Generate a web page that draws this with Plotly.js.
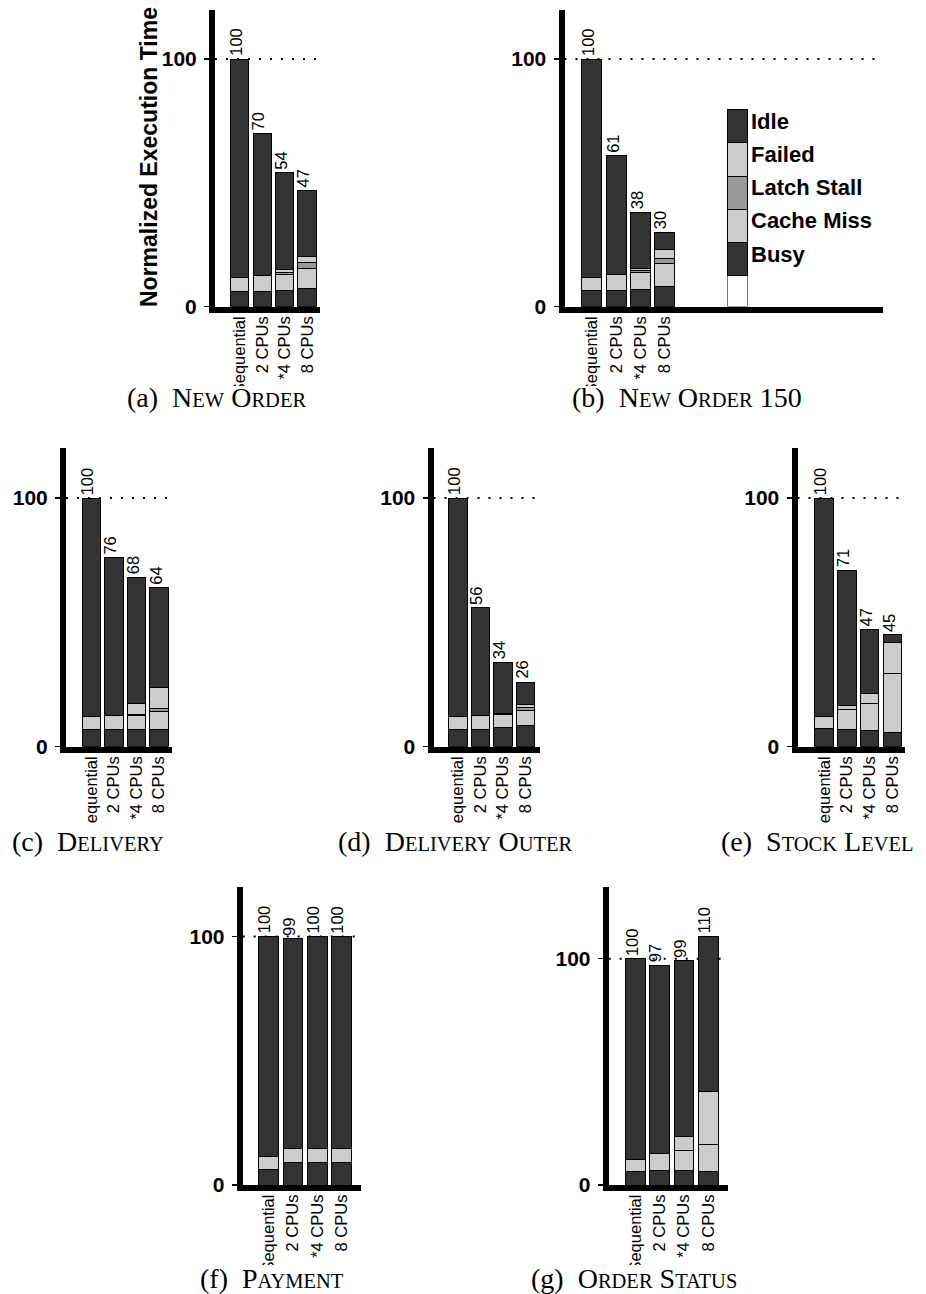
<!DOCTYPE html>
<html>
<head>
<meta charset="utf-8">
<script src="https://cdn.plot.ly/plotly-3.0.1.min.js"></script>
<style>html,body{margin:0;padding:0;background:#fff;}</style>
</head>
<body>
<div id="chart" style="width:926px;height:1294px"></div>
<script>
// Configurations on the x axis and the execution-time breakdown categories
const configs = ['Sequential', '2 CPUs', '*4 CPUs', '8 CPUs'];
const segmentNames = ['Busy', 'Cache Miss', 'Latch Stall', 'Failed', 'Idle'];

// (a) New Order
const newOrderBusy = [6.0, 6.0, 6.4, 7.3];
const newOrderCacheMiss = [5.6, 6.7, 6.8, 8.1];
const newOrderLatchStall = [0, 0, 0.8, 2.4];
const newOrderFailed = [0, 0, 1.1, 2.5];
const newOrderTotal = [100, 70, 54, 47];

// (b) New Order 150
const newOrder150Busy = [6.4, 6.4, 6.8, 8.2];
const newOrder150CacheMiss = [5.2, 6.6, 7.2, 9.2];
const newOrder150LatchStall = [0, 0, 0.5, 2.0];
const newOrder150Failed = [0, 0, 0.9, 3.7];
const newOrder150Total = [100, 61, 38, 30];

// (c) Delivery
const deliveryBusy = [6.9, 6.9, 6.9, 6.9];
const deliveryCacheMiss = [5.1, 5.7, 5.6, 7.3];
const deliveryLatchStall = [0, 0, 0.4, 1.0];
const deliveryFailed = [0, 0, 4.4, 8.7];
const deliveryTotal = [100, 76, 68, 64];

// (d) Delivery Outer
const deliveryOuterBusy = [6.9, 6.9, 7.7, 8.4];
const deliveryOuterCacheMiss = [5.1, 5.7, 5.3, 6.2];
const deliveryOuterLatchStall = [0, 0, 0, 1.0];
const deliveryOuterFailed = [0, 0, 0.4, 1.3];
const deliveryOuterTotal = [100, 56, 34, 26];

// (e) Stock Level
const stockLevelBusy = [7.3, 6.9, 6.4, 5.6];
const stockLevelCacheMiss = [4.7, 8.0, 10.9, 23.7];
const stockLevelLatchStall = [0, 0, 0, 0];
const stockLevelFailed = [0, 1.7, 4.2, 12.6];
const stockLevelTotal = [100, 71, 47, 45];

// (f) Payment
const paymentBusy = [6.2, 9.1, 8.9, 8.9];
const paymentCacheMiss = [5.2, 5.7, 5.9, 5.9];
const paymentLatchStall = [0, 0, 0, 0];
const paymentFailed = [0, 0, 0, 0];
const paymentTotal = [100, 99, 100, 100];

// (g) Order Status
const orderStatusBusy = [6.0, 6.3, 6.3, 6.0];
const orderStatusCacheMiss = [5.2, 7.8, 8.8, 12.1];
const orderStatusLatchStall = [0, 0, 0, 0];
const orderStatusFailed = [0, 0, 6.3, 23.0];
const orderStatusTotal = [100, 97, 99, 110];

// ---- drawing ----
const W = 926, H = 1294;
const SANS = 'Liberation Sans, Arial, Helvetica, sans-serif';
const SERIF = 'Liberation Serif, Times New Roman, serif';
const DARK = '#333333', LIGHT = '#cccccc', MID = '#999999';
const segColors = [DARK, LIGHT, MID, LIGHT, DARK];
const sc = s => '<span style="font-size:20.5px">' + s + '</span>';

const panels = [
  {seg: [newOrderBusy, newOrderCacheMiss, newOrderLatchStall, newOrderFailed], total: newOrderTotal,
   caption: '(a)  N' + sc('EW') + ' O' + sc('RDER'), box: [215, 320, 9.5, 306.7], xr: [-1.1, 3.57], yr: [0, 120], cap: [216, 397]},
  {seg: [newOrder150Busy, newOrder150CacheMiss, newOrder150LatchStall, newOrder150Failed], total: newOrder150Total,
   caption: '(b)  N' + sc('EW') + ' O' + sc('RDER') + ' 150', box: [564.5, 883, 9.5, 306.7], xr: [-1.13, 11.98], yr: [0, 120], cap: [687, 397]},
  {seg: [deliveryBusy, deliveryCacheMiss, deliveryLatchStall, deliveryFailed], total: deliveryTotal,
   caption: '(c)  D' + sc('ELIVERY'), box: [66, 172, 448.3, 746.7], xr: [-1.12, 3.57], yr: [0, 120], cap: [88, 841.5]},
  {seg: [deliveryOuterBusy, deliveryOuterCacheMiss, deliveryOuterLatchStall, deliveryOuterFailed], total: deliveryOuterTotal,
   caption: '(d)  D' + sc('ELIVERY') + ' O' + sc('UTER'), box: [433.5, 540, 448.3, 746.7], xr: [-1.08, 3.64], yr: [0, 120], cap: [455, 841.5]},
  {seg: [stockLevelBusy, stockLevelCacheMiss, stockLevelLatchStall, stockLevelFailed], total: stockLevelTotal,
   caption: '(e)  S' + sc('TOCK') + ' L' + sc('EVEL'), box: [797.5, 905, 448.3, 746.7], xr: [-1.18, 3.56], yr: [0, 120], cap: [817, 841.5]},
  {seg: [paymentBusy, paymentCacheMiss, paymentLatchStall, paymentFailed], total: paymentTotal,
   caption: '(f)  P' + sc('AYMENT'), box: [242.7, 360.7, 886.7, 1185], xr: [-1.08, 3.8], yr: [0, 120], cap: [272, 1278.5]},
  {seg: [orderStatusBusy, orderStatusCacheMiss, orderStatusLatchStall, orderStatusFailed], total: orderStatusTotal,
   caption: '(g)  O' + sc('RDER') + ' S' + sc('TATUS'), box: [608.7, 727.7, 886.7, 1185], xr: [-1.1, 3.8], yr: [0, 131.8], cap: [634, 1278.5]}
];

const traces = [];
const layout = {
  width: W, height: H,
  margin: {l: 0, r: 0, t: 0, b: 0},
  paper_bgcolor: 'white', plot_bgcolor: 'rgba(0,0,0,0)',
  barmode: 'stack', bargap: 0.18,
  showlegend: false,
  font: {family: SANS, color: 'black'},
  annotations: [], shapes: []
};

const xpos = [0, 1, 2, 3];

panels.forEach((p, k) => {
  const xa = k === 0 ? 'x' : 'x' + (k + 1);
  const ya = k === 0 ? 'y' : 'y' + (k + 1);
  const xKey = k === 0 ? 'xaxis' : 'xaxis' + (k + 1);
  const yKey = k === 0 ? 'yaxis' : 'yaxis' + (k + 1);
  const [L, R, T, B] = p.box;

  // idle time fills each bar up to its total
  const idle = p.total.map((t, i) => t - p.seg.reduce((s, arr) => s + arr[i], 0));
  const stacks = p.seg.concat([idle]);

  stacks.forEach((vals, s) => {
    traces.push({
      type: 'bar', x: xpos, y: vals, xaxis: xa, yaxis: ya,
      name: segmentNames[s],
      marker: {color: segColors[s], line: {color: 'black', width: 1}},
      hoverinfo: 'skip'
    });
  });

  layout[xKey] = {
    domain: [L / W, R / W], range: p.xr, anchor: ya,
    tickvals: xpos, ticktext: configs, tickangle: -90, ticks: '',
    ticklabelstandoff: -3,
    showline: true, linewidth: 6, linecolor: 'black',
    showgrid: false, zeroline: false, fixedrange: true,
    tickfont: {family: SANS, size: 16.5, color: 'black'}
  };
  layout[yKey] = {
    domain: [1 - B / H, 1 - T / H], range: p.yr, anchor: xa,
    tickvals: [0, 100], ticktext: ['0', '100'],
    ticks: 'outside', ticklen: 5, tickwidth: 1.5, tickcolor: 'black',
    ticklabelstandoff: 3,
    showline: true, linewidth: 6, linecolor: 'black',
    showgrid: false, zeroline: false, fixedrange: true,
    tickfont: {family: SANS, size: 21, color: 'black', weight: 700}
  };

  // dotted reference line at 100
  layout.shapes.push({
    type: 'line', xref: xa + ' domain', yref: ya, x0: 0, x1: 1, y0: 100, y1: 100,
    line: {color: 'black', width: 2, dash: '2px,9px'}, layer: 'below'
  });

  // total labels above the bars
  p.total.forEach((t, i) => {
    layout.annotations.push({
      xref: xa, yref: ya, x: i, y: t, text: String(t), showarrow: false,
      textangle: -90, xanchor: 'center', yanchor: 'bottom', xshift: -4, yshift: 1,
      font: {family: SANS, size: 16.5, color: 'black'}
    });
  });

  // sub-figure caption
  layout.annotations.push({
    xref: 'paper', yref: 'paper', x: p.cap[0] / W, y: 1 - p.cap[1] / H,
    text: p.caption, showarrow: false, xanchor: 'center', yanchor: 'middle',
    font: {family: SERIF, size: 28, color: 'black'}
  });
});

// legend drawn as a stacked key bar inside panel (b)
const legendX = 6, legendBase = 12.5, legendStep = 13.4;
traces.push({
  type: 'bar', x: [legendX], y: [legendBase], xaxis: 'x2', yaxis: 'y2',
  marker: {color: 'white', line: {color: '#777777', width: 1}}, hoverinfo: 'skip'
});
segmentNames.forEach((name, s) => {
  traces.push({
    type: 'bar', x: [legendX], y: [legendStep], xaxis: 'x2', yaxis: 'y2', name: name,
    marker: {color: segColors[s], line: {color: 'black', width: 1}}, hoverinfo: 'skip'
  });
  layout.annotations.push({
    xref: 'x2', yref: 'y2', x: legendX, y: legendBase + legendStep * (s + 0.5),
    text: name, showarrow: false, xanchor: 'left', yanchor: 'middle', xshift: 11, yshift: 5,
    font: {family: SANS, size: 22, color: 'black', weight: 700}
  });
});

// shared y-axis title
layout.annotations.push({
  xref: 'paper', yref: 'paper', x: 149 / W, y: 1 - 157 / H,
  text: 'Normalized Execution Time', showarrow: false, textangle: -90,
  xanchor: 'center', yanchor: 'middle',
  font: {family: SANS, size: 23, color: 'black', weight: 700}
});

// trim the long first tick label where it meets the captions
[[386, 395], [823, 834], [1265, 1273]].forEach(([top, bottom]) => {
  layout.shapes.push({
    type: 'rect', xref: 'paper', yref: 'paper', x0: 0, x1: 1,
    y0: 1 - bottom / H, y1: 1 - top / H,
    fillcolor: 'white', line: {width: 0}, layer: 'above'
  });
});

Plotly.newPlot('chart', traces, layout, {staticPlot: true, displayModeBar: false});
</script>
</body>
</html>
